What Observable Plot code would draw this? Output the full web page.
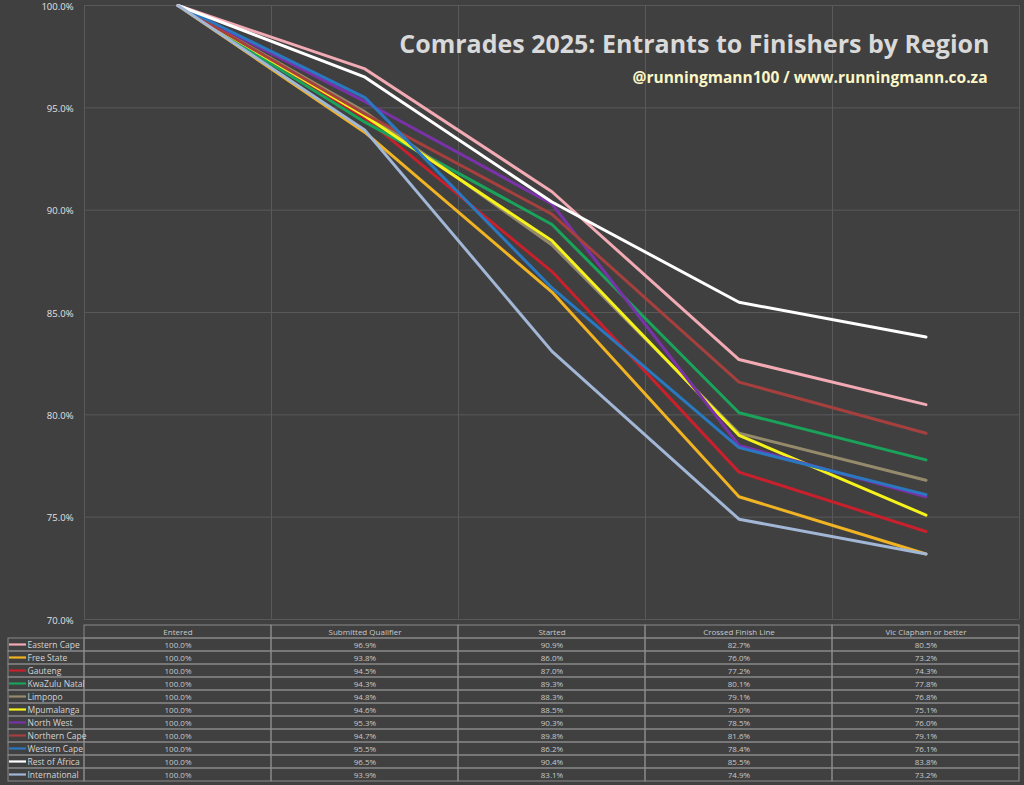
<!DOCTYPE html>
<html><head><meta charset="utf-8">
<script src="https://cdn.jsdelivr.net/npm/d3@7"></script>
<script src="https://cdn.jsdelivr.net/npm/@observablehq/plot@0.6"></script>
<style>
html,body{margin:0;padding:0;background:#404040;}
#chart svg{display:block;}
</style></head><body><div id="chart"></div>
<script>
const categories = ["Entered", "Submitted Qualifier", "Started", "Crossed Finish Line", "Vic Clapham or better"];
const regions = ["Eastern Cape", "Free State", "Gauteng", "KwaZulu Natal", "Limpopo", "Mpumalanga", "North West", "Northern Cape", "Western Cape", "Rest of Africa", "International"];
const colors = ["#f2aab4", "#f0b323", "#c8202c", "#1aa35a", "#958b6c", "#f6f21c", "#7a32a8", "#a5403e", "#2a78c0", "#ffffff", "#a2b6d6"];

const easternCape  = [100.0, 96.9, 90.9, 82.7, 80.5];
const freeState    = [100.0, 93.8, 86.0, 76.0, 73.2];
const gauteng      = [100.0, 94.5, 87.0, 77.2, 74.3];
const kwaZuluNatal = [100.0, 94.3, 89.3, 80.1, 77.8];
const limpopo      = [100.0, 94.8, 88.3, 79.1, 76.8];
const mpumalanga   = [100.0, 94.6, 88.5, 79.0, 75.1];
const northWest    = [100.0, 95.3, 90.3, 78.5, 76.0];
const northernCape = [100.0, 94.7, 89.8, 81.6, 79.1];
const westernCape  = [100.0, 95.5, 86.2, 78.4, 76.1];
const restOfAfrica = [100.0, 96.5, 90.4, 85.5, 83.8];
const international= [100.0, 93.9, 83.1, 74.9, 73.2];

const yTicks = [70, 75, 80, 85, 90, 95, 100];
const title = "Comrades 2025: Entrants to Finishers by Region";
const subtitle = "@runningmann100 / www.runningmann.co.za";

const seriesValues = [easternCape, freeState, gauteng, kwaZuluNatal, limpopo, mpumalanga, northWest, northernCape, westernCape, restOfAfrica, international];
const rows = regions.flatMap((r, ri) => seriesValues[ri].map((v, ci) => ({region: r, category: categories[ci], ci, value: v})));

const fmt = v => v.toFixed(1) + "%";
const xDomain = [-0.5, categories.length - 0.5];
const colEdges = d3.range(categories.length + 1).map(i => i - 0.5);
const colorScale = {type: "ordinal", domain: regions, range: colors};
const W = 1024, ML = 84, MR = 5;
const colW = (W - ML - MR) / categories.length;
const legendLeft = -0.5 - 76 / colW;
const font = "'Open Sans', sans-serif";
const gridColor = "#595959";
const tableLine = "#8a8a8a";
const tableText = "#c8c8c8";

const chart = Plot.plot({
  width: W, height: 620, marginTop: 5, marginBottom: 1, marginLeft: ML, marginRight: MR,
  style: {background: "#404040", fontFamily: font, overflow: "visible"},
  x: {domain: xDomain, axis: null},
  y: {domain: [70, 100], axis: null},
  color: colorScale,
  marks: [
    Plot.ruleY(yTicks, {stroke: gridColor, strokeWidth: 1}),
    Plot.ruleX(colEdges, {stroke: gridColor, strokeWidth: 1}),
    Plot.axisY({ticks: yTicks, tickFormat: fmt, tickSize: 0, tickPadding: 11, fill: "#e0e0e0", fontSize: 9.5, dy: 1, label: null}),
    Plot.line(rows, {x: "ci", y: "value", z: "region", stroke: "region", strokeWidth: 3, strokeLinejoin: "round", strokeLinecap: "round"}),
    Plot.text([title], {frameAnchor: "top-right", text: d => d, dx: -30, dy: 39, textAnchor: "end", lineAnchor: "middle", fontSize: 25, fontWeight: "bold", fill: "#d9d9d9"}),
    Plot.text([subtitle], {frameAnchor: "top-right", text: d => d, dx: -32, dy: 73, textAnchor: "end", lineAnchor: "middle", fontSize: 15.5, fontWeight: "bold", fill: "#fbf6c6"})
  ]
});

const bandRows = ["", ...regions];
const table = Plot.plot({
  width: W, height: 165, marginTop: 0, marginBottom: 0, marginLeft: ML, marginRight: MR,
  style: {background: "#404040", fontFamily: font, overflow: "visible"},
  x: {domain: xDomain, axis: null},
  y: {type: "band", domain: bandRows, padding: 0, axis: null},
  color: colorScale,
  marks: [
    Plot.barX(categories, {x1: (d, i) => i - 0.5, x2: (d, i) => i + 0.5, y: () => "", fill: "none", stroke: tableLine, strokeWidth: 1}),
    Plot.barX(rows, {x1: d => d.ci - 0.5, x2: d => d.ci + 0.5, y: "region", fill: "none", stroke: tableLine, strokeWidth: 1}),
    Plot.barX(regions, {x1: legendLeft, x2: -0.5, y: d => d, fill: "none", stroke: tableLine, strokeWidth: 1}),
    Plot.barX(regions, {x1: legendLeft, x2: -0.5, y: d => d, fill: d => d, insetLeft: 1, insetRight: 58, insetTop: 5.4, insetBottom: 5.4}),
    Plot.text(categories, {x: (d, i) => i, y: () => "", text: d => d, fill: tableText, fontSize: 8}),
    Plot.text(rows, {x: "ci", y: "region", text: d => fmt(d.value), fill: tableText, fontSize: 8}),
    Plot.text(regions, {x: legendLeft, y: d => d, text: d => d, textAnchor: "start", dx: 19, fill: "#d4d4d4", fontSize: 8.5})
  ]
});

const root = document.getElementById("chart");
root.appendChild(chart);
root.appendChild(table);
</script>
</body></html>
